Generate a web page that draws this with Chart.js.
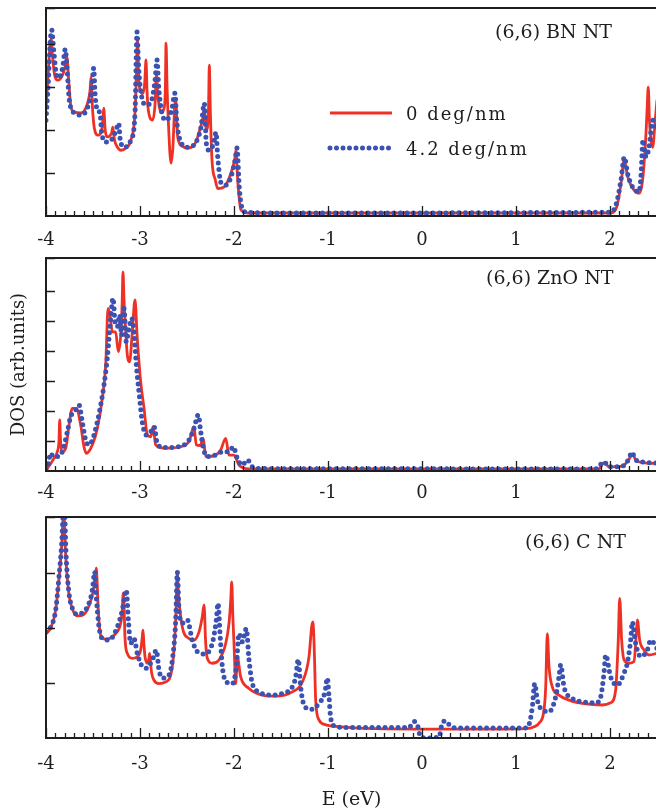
<!DOCTYPE html>
<html>
<head>
<meta charset="utf-8">
<script src="https://cdn.jsdelivr.net/npm/chart.js@4.4.1/dist/chart.umd.min.js"></script>
<style>
  html, body { margin: 0; padding: 0; background: #fff; width: 656px; height: 811px; overflow: hidden; }
  canvas { position: absolute; left: 0; }
</style>
</head>
<body>
<canvas id="bn" width="660" height="250" style="top:0"></canvas>
<canvas id="zno" width="660" height="250" style="top:250px"></canvas>
<canvas id="cnt" width="660" height="311" style="top:500px"></canvas>
<script>
// --- Data: [E (eV), DOS (arb. units)] ---
const seriesLabels = ['0 deg/nm', '4.2 deg/nm'];
const panelNames = ['(6,6) BN NT', '(6,6) ZnO NT', '(6,6) C NT'];

const bnRed = [[-4.00,2.5],[-3.98,3.2],[-3.96,3.9],[-3.947,4.14],[-3.93,3.7],[-3.91,3.3],[-3.876,3.16],[-3.82,3.3],[-3.79,3.55],[-3.777,3.7],[-3.76,3.2],[-3.734,2.53],[-3.70,2.42],[-3.63,2.40],[-3.57,2.55],[-3.53,2.95],[-3.521,3.23],[-3.505,2.5],[-3.486,2.05],[-3.447,1.88],[-3.40,2.1],[-3.386,2.51],[-3.37,2.0],[-3.344,1.84],[-3.30,1.95],[-3.29,2.07],[-3.271,1.77],[-3.24,1.60],[-3.202,1.53],[-3.15,1.58],[-3.096,1.77],[-3.053,2.40],[-3.035,3.5],[-3.027,4.14],[-3.015,3.3],[-3.0,2.93],[-2.97,2.85],[-2.95,3.1],[-2.936,3.63],[-2.925,2.9],[-2.912,2.47],[-2.865,2.23],[-2.84,2.6],[-2.825,3.3],[-2.81,2.8],[-2.777,2.40],[-2.74,2.55],[-2.73,3.0],[-2.723,4.02],[-2.712,3.0],[-2.699,2.23],[-2.67,1.23],[-2.65,1.6],[-2.63,2.6],[-2.62,2.7],[-2.599,1.84],[-2.55,1.62],[-2.493,1.58],[-2.42,1.66],[-2.386,1.84],[-2.33,2.3],[-2.316,2.5],[-2.30,2.1],[-2.29,2.0],[-2.27,2.6],[-2.263,3.51],[-2.25,2.3],[-2.234,1.30],[-2.20,0.85],[-2.173,0.64],[-2.103,0.68],[-2.032,1.0],[-1.99,1.35],[-1.979,1.53],[-1.965,1.0],[-1.95,0.53],[-1.926,0.14],[-1.855,0.07],[2.00,0.07],[2.07,0.2],[2.12,0.8],[2.15,1.3],[2.19,0.9],[2.25,0.62],[2.312,0.53],[2.35,0.9],[2.383,1.93],[2.395,2.5],[2.407,3.0],[2.42,2.2],[2.436,1.77],[2.454,1.60],[2.48,2.2],[2.50,2.7]];
const bnBlue = [[-4.00,2.23],[-3.976,3.09],[-3.954,4.09],[-3.939,4.33],[-3.918,3.86],[-3.894,3.35],[-3.862,3.21],[-3.822,3.47],[-3.795,3.88],[-3.777,3.47],[-3.752,2.70],[-3.699,2.40],[-3.628,2.35],[-3.556,2.53],[-3.514,2.93],[-3.493,3.44],[-3.476,2.77],[-3.45,2.45],[-3.426,2.40],[-3.407,1.93],[-3.362,1.72],[-3.29,1.81],[-3.245,2.07],[-3.227,2.16],[-3.21,1.77],[-3.167,1.60],[-3.096,1.77],[-3.053,2.40],[-3.032,4.28],[-3.014,3.44],[-2.989,2.86],[-2.936,2.58],[-2.876,2.70],[-2.84,3.16],[-2.819,3.63],[-2.801,3.00],[-2.769,2.42],[-2.723,2.23],[-2.663,2.47],[-2.628,2.86],[-2.61,2.23],[-2.564,1.72],[-2.493,1.60],[-2.404,1.72],[-2.351,2.07],[-2.316,2.62],[-2.295,1.70],[-2.263,1.53],[-2.216,1.70],[-2.191,1.95],[-2.173,1.37],[-2.138,0.77],[-2.085,0.72],[-2.032,0.91],[-1.989,1.30],[-1.968,1.58],[-1.944,0.67],[-1.918,0.21],[-1.872,0.09],[-1.5,0.07],[2.011,0.09],[2.064,0.26],[2.117,0.84],[2.152,1.37],[2.191,0.95],[2.241,0.67],[2.309,0.56],[2.33,0.95],[2.351,1.77],[2.383,1.37],[2.415,1.60],[2.454,2.23],[2.50,2.0]];

const znoRed = [[-4.0,0.05],[-3.986,0.09],[-3.915,0.42],[-3.88,0.64],[-3.862,1.0],[-3.854,1.70],[-3.845,1.0],[-3.833,0.64],[-3.79,0.76],[-3.755,1.53],[-3.72,2.09],[-3.677,2.09],[-3.631,1.53],[-3.596,0.81],[-3.571,0.59],[-3.507,0.87],[-3.454,1.42],[-3.401,2.42],[-3.365,3.53],[-3.34,5.42],[-3.319,5.20],[-3.295,4.64],[-3.259,4.64],[-3.231,3.98],[-3.205,4.53],[-3.19,5.6],[-3.181,6.64],[-3.17,5.7],[-3.16,5.09],[-3.135,3.87],[-3.11,3.64],[-3.082,4.64],[-3.053,5.70],[-3.029,4.42],[-2.993,2.98],[-2.957,2.09],[-2.922,1.20],[-2.886,1.14],[-2.862,1.48],[-2.833,0.87],[-2.745,0.76],[-2.585,0.80],[-2.479,0.98],[-2.426,1.48],[-2.401,0.87],[-2.36,0.85],[-2.327,1.09],[-2.301,0.48],[-2.195,0.53],[-2.142,0.70],[-2.088,1.09],[-2.053,0.53],[-2.0,0.53],[-1.947,0.20],[-1.84,0.07],[1.88,0.07],[1.936,0.28],[1.99,0.14],[2.13,0.16],[2.20,0.38],[2.235,0.55],[2.28,0.35],[2.35,0.28],[2.50,0.25]];
const znoBlue = [[-4.0,0.05],[-3.986,0.09],[-3.95,0.59],[-3.926,0.48],[-3.88,0.48],[-3.827,0.64],[-3.773,1.31],[-3.738,1.81],[-3.684,2.03],[-3.649,2.20],[-3.614,1.64],[-3.578,1.03],[-3.543,0.87],[-3.507,1.03],[-3.454,1.64],[-3.418,2.20],[-3.383,2.87],[-3.348,3.76],[-3.312,5.09],[-3.287,5.76],[-3.266,4.98],[-3.241,4.81],[-3.216,5.20],[-3.195,4.53],[-3.17,5.42],[-3.146,4.31],[-3.124,4.64],[-3.088,5.09],[-3.064,4.64],[-3.039,3.53],[-3.011,2.64],[-2.976,1.64],[-2.933,1.20],[-2.886,1.31],[-2.851,1.48],[-2.816,0.92],[-2.745,0.78],[-2.585,0.81],[-2.479,1.03],[-2.426,1.42],[-2.38,1.87],[-2.354,1.31],[-2.33,0.81],[-2.284,0.48],[-2.195,0.53],[-2.124,0.64],[-2.053,0.64],[-2.007,0.81],[-1.965,0.42],[-1.912,0.20],[-1.859,0.37],[-1.805,0.14],[-1.75,0.08],[1.85,0.07],[1.936,0.31],[1.989,0.14],[2.128,0.16],[2.202,0.41],[2.231,0.63],[2.273,0.37],[2.344,0.30],[2.50,0.26]];

const cRed = [[-4.0,1.90],[-3.95,2.0],[-3.897,2.33],[-3.862,2.9],[-3.833,3.5],[-3.812,4.1],[-3.79,3.3],[-3.755,2.6],[-3.72,2.35],[-3.667,2.22],[-3.596,2.25],[-3.543,2.40],[-3.50,2.65],[-3.475,2.95],[-3.465,3.09],[-3.455,2.8],[-3.444,2.33],[-3.418,1.87],[-3.37,1.80],[-3.259,1.90],[-3.205,2.09],[-3.19,2.3],[-3.178,2.63],[-3.168,2.3],[-3.16,1.84],[-3.135,1.54],[-3.082,1.45],[-3.029,1.48],[-2.993,1.60],[-2.975,1.85],[-2.968,1.96],[-2.958,1.7],[-2.947,1.48],[-2.922,1.36],[-2.905,1.45],[-2.897,1.54],[-2.887,1.35],[-2.876,1.18],[-2.851,1.05],[-2.798,0.99],[-2.727,1.02],[-2.656,1.30],[-2.62,2.15],[-2.603,3.0],[-2.59,2.6],[-2.55,2.02],[-2.479,1.81],[-2.426,1.78],[-2.372,1.93],[-2.337,2.21],[-2.319,2.42],[-2.301,1.72],[-2.284,1.45],[-2.231,1.36],[-2.16,1.42],[-2.088,1.72],[-2.053,2.09],[-2.035,2.5],[-2.024,2.84],[-2.012,2.2],[-2.0,1.72],[-1.982,0.99],[-1.965,1.48],[-1.929,1.11],[-1.84,0.90],[-1.699,0.78],[-1.557,0.76],[-1.38,0.84],[-1.273,1.02],[-1.202,1.48],[-1.174,2.02],[-1.16,2.11],[-1.146,1.6],[-1.131,0.69],[-1.096,0.33],[-1.024,0.24],[-0.918,0.21],[-0.5,0.17],[0.5,0.16],[1.10,0.17],[1.20,0.21],[1.245,0.27],[1.298,0.51],[1.316,0.93],[1.333,1.90],[1.351,1.30],[1.386,0.93],[1.457,0.78],[1.564,0.69],[1.741,0.62],[1.918,0.60],[2.007,0.64],[2.06,0.87],[2.088,1.78],[2.103,2.54],[2.124,1.78],[2.149,1.42],[2.202,1.36],[2.255,1.39],[2.28,1.90],[2.291,2.15],[2.316,1.78],[2.362,1.60],[2.415,1.51],[2.50,1.54]];
const cBlue = [[-4.0,1.93],[-3.95,2.02],[-3.897,2.33],[-3.862,2.93],[-3.833,3.54],[-3.809,4.3],[-3.784,3.24],[-3.755,2.63],[-3.72,2.36],[-3.667,2.25],[-3.596,2.30],[-3.543,2.45],[-3.507,2.69],[-3.482,3.02],[-3.465,2.57],[-3.436,2.02],[-3.401,1.81],[-3.33,1.78],[-3.241,2.02],[-3.188,2.33],[-3.146,2.69],[-3.124,2.15],[-3.099,1.72],[-3.064,1.81],[-3.029,1.54],[-2.976,1.30],[-2.933,1.27],[-2.869,1.42],[-2.826,1.60],[-2.798,1.24],[-2.763,1.09],[-2.691,1.15],[-2.656,1.42],[-2.62,2.15],[-2.603,3.02],[-2.585,2.33],[-2.55,2.09],[-2.497,2.15],[-2.444,1.78],[-2.39,1.57],[-2.319,1.53],[-2.231,1.72],[-2.188,2.15],[-2.17,2.45],[-2.149,1.90],[-2.124,1.30],[-2.082,1.02],[-2.018,0.99],[-1.975,1.30],[-1.947,1.90],[-1.912,1.75],[-1.869,1.99],[-1.84,1.42],[-1.805,0.99],[-1.734,0.84],[-1.628,0.78],[-1.486,0.81],[-1.38,0.93],[-1.344,1.11],[-1.316,1.43],[-1.291,0.93],[-1.255,0.60],[-1.184,0.52],[-1.096,0.63],[-1.032,0.84],[-1.007,1.09],[-0.989,0.75],[-0.971,0.36],[-0.918,0.21],[-0.811,0.19],[-0.14,0.19],[-0.085,0.30],[-0.05,0.24],[-0.014,0.02],[0.074,0.0],[0.181,0.02],[0.216,0.27],[0.252,0.31],[0.305,0.21],[0.40,0.18],[1.10,0.18],[1.138,0.24],[1.174,0.57],[1.199,0.99],[1.227,0.69],[1.28,0.51],[1.351,0.48],[1.422,0.75],[1.457,1.11],[1.475,1.33],[1.511,0.93],[1.599,0.72],[1.706,0.66],[1.848,0.64],[1.901,0.75],[1.936,1.18],[1.954,1.51],[2.007,1.11],[2.078,0.96],[2.149,1.18],[2.184,1.36],[2.22,1.78],[2.237,2.11],[2.273,1.72],[2.326,1.48],[2.397,1.60],[2.433,1.78],[2.50,1.63]];

const eMin = -4, eMax = 2.5;
const RED = '#ee3124', BLUE = '#3b52b2', INK = '#1e1e1e';
const SERIF = '"DejaVu Serif", "Liberation Serif", serif';

Chart.defaults.font.family = SERIF;
Chart.defaults.font.size = 18;
Chart.defaults.color = INK;

// frame + inward tick marks (major/minor on E, major on DOS)
const frame = {
  id: 'frame',
  afterDatasetsDraw(chart) {
    const { ctx, chartArea: a, scales: { x, y } } = chart;
    ctx.save();
    ctx.strokeStyle = INK;
    ctx.lineWidth = 1.3;
    ctx.beginPath();
    for (let i = eMin * 10; i <= eMax * 10; i++) {
      const px = Math.round(x.getPixelForValue(i / 10)) + 0.5;
      ctx.moveTo(px, a.bottom);
      ctx.lineTo(px, a.bottom - (i % 10 === 0 ? 10 : 5));
    }
    y.ticks.forEach(t => {
      if (t.value <= 0) return;
      const py = Math.round(y.getPixelForValue(t.value)) + 0.5;
      ctx.moveTo(a.left, py);
      ctx.lineTo(a.left + 9, py);
    });
    ctx.stroke();
    ctx.lineWidth = 2;
    ctx.beginPath();
    ctx.moveTo(a.right + 2, a.top);
    ctx.lineTo(a.left, a.top);
    ctx.lineTo(a.left, a.bottom);
    ctx.lineTo(a.right + 2, a.bottom);
    ctx.stroke();
    ctx.restore();
  }
};

// panel name inside the plot
const tag = {
  id: 'tag',
  afterDraw(chart, args, o) {
    if (!o.text) return;
    const ctx = chart.ctx;
    ctx.save();
    ctx.font = '19px ' + SERIF;
    ctx.fillStyle = INK;
    ctx.textBaseline = 'middle';
    ctx.fillText(o.text, o.x, o.y);
    ctx.restore();
  }
};

// legend drawn from the datasets' own styles
const keyBox = {
  id: 'keyBox',
  afterDraw(chart, args, o) {
    if (!o.show) return;
    const ctx = chart.ctx;
    chart.data.datasets.forEach((ds, i) => {
      const yy = o.y + i * o.gap;
      ctx.save();
      ctx.strokeStyle = ds.borderColor;
      ctx.lineWidth = ds.borderWidth;
      ctx.lineCap = ds.borderCapStyle || 'butt';
      ctx.setLineDash(ds.borderDash || []);
      ctx.beginPath();
      ctx.moveTo(o.x, yy);
      ctx.lineTo(o.x + o.len, yy);
      ctx.stroke();
      ctx.setLineDash([]);
      ctx.fillStyle = INK;
      ctx.font = '18px ' + SERIF;
      ctx.letterSpacing = '2px';
      ctx.textBaseline = 'middle';
      ctx.fillText(ds.label, o.x + o.len + 14, yy + 2);
      ctx.restore();
    });
  }
};

const pts = arr => arr.map(([x, y]) => ({ x, y }));

function panel(id, red, blue, yMax, cfg) {
  return new Chart(document.getElementById(id), {
    type: 'line',
    data: {
      datasets: [
        { label: seriesLabels[0], data: pts(red), borderColor: RED, borderWidth: 2.8,
          pointRadius: 0, cubicInterpolationMode: 'monotone', order: 2, clip: 0 },
        { label: seriesLabels[1], data: pts(blue), borderColor: BLUE, borderWidth: 5,
          borderDash: [0, 6.5], borderCapStyle: 'round',
          pointRadius: 0, cubicInterpolationMode: 'monotone', order: 1, clip: 0 }
      ]
    },
    options: {
      responsive: false,
      animation: false,
      events: [],
      layout: { padding: { left: 0, top: cfg.top, right: 3, bottom: 0 } },
      scales: {
        x: {
          type: 'linear', min: eMin, max: eMax,
          grid: { display: false, drawTicks: false },
          border: { display: false },
          ticks: { stepSize: 1, includeBounds: false, padding: cfg.tickPad, maxRotation: 0 },
          title: { display: !!cfg.xTitle, text: cfg.xTitle || '', font: { size: 19 }, padding: 0 },
          afterFit: s => { s.height = cfg.xh; }
        },
        y: {
          min: 0, max: yMax,
          grid: { display: false, drawTicks: false },
          border: { display: false },
          ticks: { display: false, stepSize: 1 },
          title: { display: !!cfg.yTitle, text: cfg.yTitle || '', font: { size: 18 }, padding: { top: 9, bottom: 0 } },
          afterFit: s => { s.width = 46; }
        }
      },
      plugins: {
        legend: { display: false },
        tooltip: { enabled: false },
        tag: cfg.tag,
        keyBox: cfg.key || { show: false }
      }
    },
    plugins: [frame, tag, keyBox]
  });
}

panel('bn', bnRed, bnBlue, 4.84, {
  top: 8, xh: 34, tickPad: 14,
  tag: { text: panelNames[0], x: 495, y: 33 },
  key: { show: true, x: 330, y: 113, gap: 35, len: 62 }
});
panel('zno', znoRed, znoBlue, 7.1, {
  top: 8, xh: 29, tickPad: 12, yTitle: 'DOS (arb.units)',
  tag: { text: panelNames[1], x: 486, y: 29 }
});
panel('cnt', cRed, cBlue, 4.02, {
  top: 17, xh: 73, tickPad: 16, xTitle: 'E (eV)',
  tag: { text: panelNames[2], x: 525, y: 43 }
});
</script>
</body>
</html>
